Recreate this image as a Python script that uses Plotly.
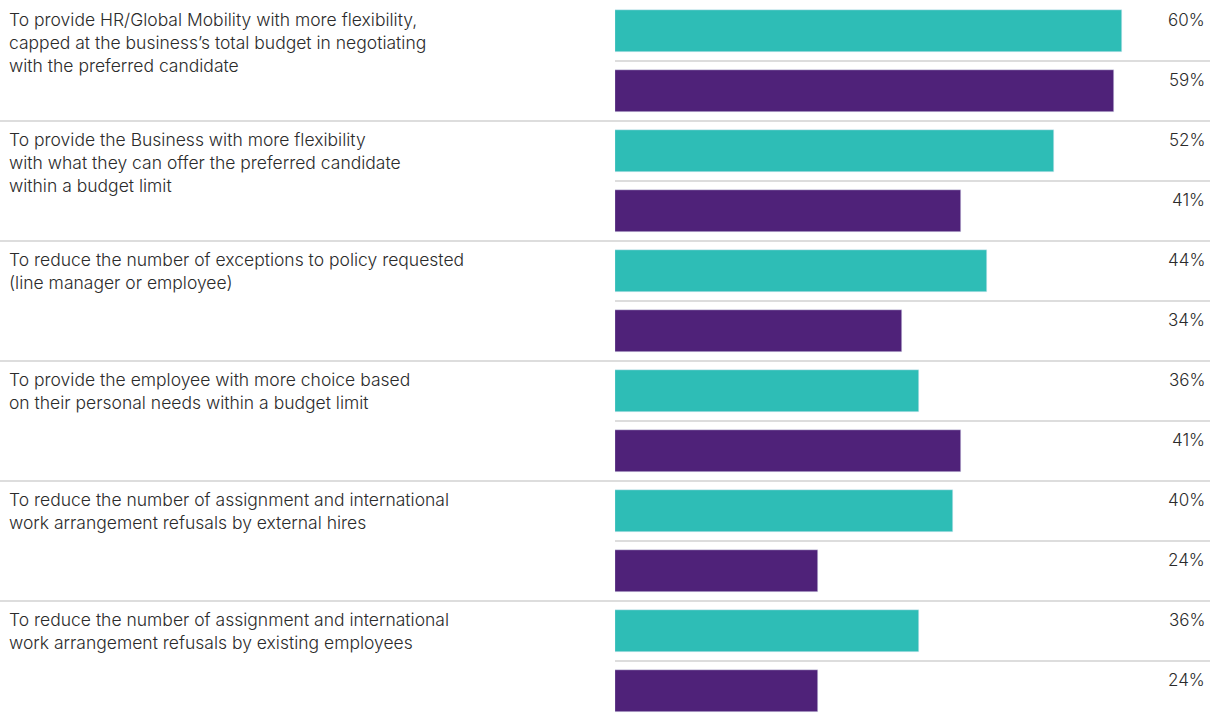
import plotly.graph_objects as go

# Survey responses: share of respondents selecting each objective
categories = [
    "To provide HR/Global Mobility with more flexibility,<br>capped at the business’s total budget in negotiating<br>with the preferred candidate",
    "To provide the Business with more flexibility<br>with what they can offer the preferred candidate<br>within a budget limit",
    "To reduce the number of exceptions to policy requested<br>(line manager or employee)",
    "To provide the employee with more choice based<br>on their personal needs within a budget limit",
    "To reduce the number of assignment and international<br>work arrangement refusals by external hires",
    "To reduce the number of assignment and international<br>work arrangement refusals by existing employees",
]
series_a = [60, 52, 44, 36, 40, 36]   # teal bars
series_b = [59, 41, 34, 41, 24, 24]   # purple bars

TEAL = "#2EBDB6"
PURPLE = "#4F2279"
TEXT = "#2B2B2B"
RULE = "#BBBBBB"
FONT = "Inter"

W, H = 1222, 720
BAR_X0 = 615          # pixel where bars start
PX_PER_PCT = 8.45
LINE_END = 1210

n = len(categories)
pos_a = [2 * i for i in range(n)]
pos_b = [2 * i + 1 for i in range(n)]

fig = go.Figure()
fig.add_trace(go.Bar(y=pos_a, x=series_a, orientation="h", marker_color=TEAL,
                     width=0.7, hoverinfo="skip", showlegend=False))
fig.add_trace(go.Bar(y=pos_b, x=series_b, orientation="h", marker_color=PURPLE,
                     width=0.7, hoverinfo="skip", showlegend=False))

x_max = (W - BAR_X0) / PX_PER_PCT
total = 2 * n
fig.update_xaxes(domain=[BAR_X0 / W, 1], range=[0, x_max], visible=False, fixedrange=True)
fig.update_yaxes(range=[total - 1 + (H - 691) / 60, -31 / 60], visible=False, fixedrange=True)

label_font = dict(family=FONT, size=17.5, color=TEXT, weight=300)
value_font = dict(family=FONT, size=17, color=TEXT, weight=300)

annotations = []
shapes = []
for i, label in enumerate(categories):
    annotations.append(dict(
        text=label, xref="paper", yref="y", x=7 / W, y=pos_a[i] - 24 / 60,
        xanchor="left", yanchor="top", align="left", showarrow=False,
        font=label_font,
    ))
    for p, v in ((pos_a[i], series_a[i]), (pos_b[i], series_b[i])):
        annotations.append(dict(
            text=f"{v}%", xref="paper", yref="y", x=1207 / W, y=p - 11 / 60,
            xanchor="right", yanchor="middle", showarrow=False,
            font=value_font,
        ))
    # short rule between the pair of bars
    shapes.append(dict(type="line", xref="paper", yref="y",
                       x0=BAR_X0 / W, x1=LINE_END / W, y0=pos_a[i] + 0.5, y1=pos_a[i] + 0.5,
                       line=dict(color=RULE, width=1)))
    # full-width rule between categories
    if i < n - 1:
        shapes.append(dict(type="line", xref="paper", yref="y",
                           x0=0, x1=LINE_END / W, y0=pos_b[i] + 0.5, y1=pos_b[i] + 0.5,
                           line=dict(color=RULE, width=1)))

fig.update_layout(
    width=W, height=H,
    margin=dict(l=0, r=0, t=0, b=0),
    plot_bgcolor="white", paper_bgcolor="white",
    bargap=0, annotations=annotations, shapes=shapes,
)

fig.write_html("out.html", config={"displayModeBar": False})
